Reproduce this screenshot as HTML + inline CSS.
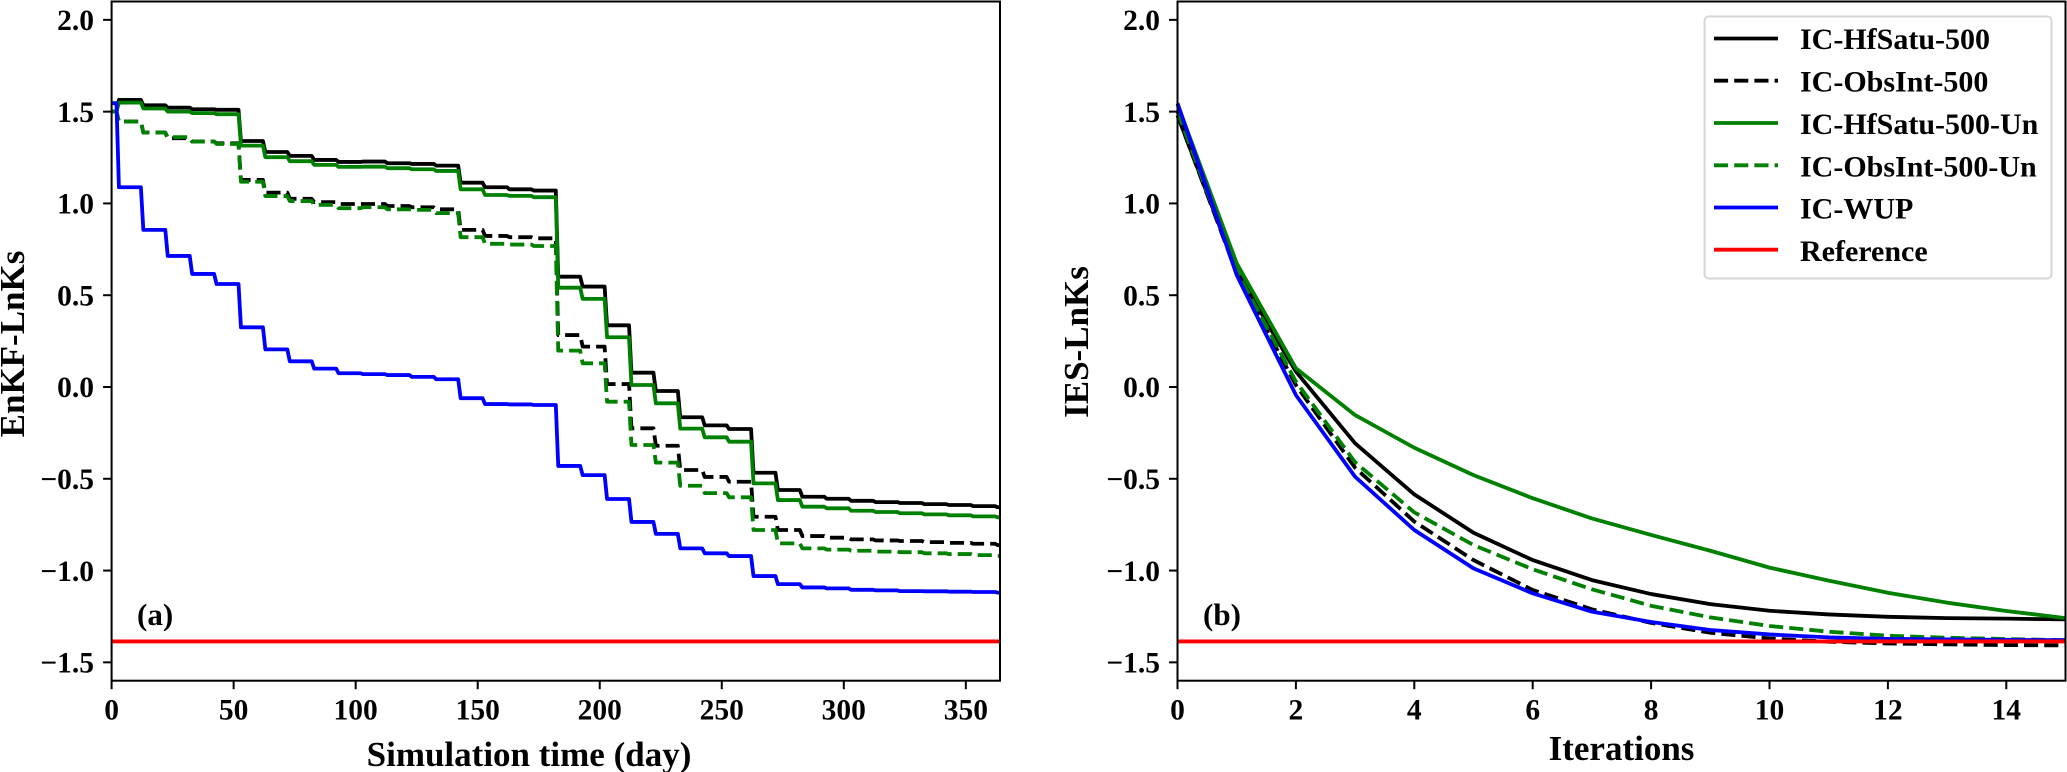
<!DOCTYPE html>
<html lang="en">
<head>
<meta charset="utf-8">
<title>EnKF and IES LnKs comparison</title>
<style>
html,body{margin:0;padding:0;background:#fff;}
body{width:2067px;height:772px;overflow:hidden;}
svg{display:block;}
text{font-family:"Liberation Serif",serif;font-weight:bold;fill:#000;}
.tick{font-size:29.5px;}
.label{font-size:35px;}
.tag{font-size:31px;}
.leg{font-size:30px;}
</style>
</head>
<body>
<svg id="figure" xmlns="http://www.w3.org/2000/svg" width="2067" height="772" viewBox="0 0 2067 772">
  <g id="panel-a"></g>
  <g id="panel-b"></g>
  <text class="label" x="529" y="766" text-anchor="middle">Simulation time (day)</text>
  <text class="label" x="1621.5" y="760" text-anchor="middle">Iterations</text>
  <text class="label" transform="translate(24 344) rotate(-90)" text-anchor="middle">EnKF-LnKs</text>
  <text class="label" transform="translate(1088 342) rotate(-90)" text-anchor="middle">IES-LnKs</text>
  <text class="tag" x="137" y="625">(a)</text>
  <text class="tag" x="1203" y="625">(b)</text>
  <g>
    <rect x="1704.5" y="16.5" width="347" height="262" rx="4" ry="4" fill="#fff" stroke="#d6d6d6" stroke-width="2"></rect>
    <g>
      <line x1="1714" x2="1778" y1="38.5" y2="38.5" stroke="#000" stroke-width="3.8"></line>
      <text class="leg" x="1800" y="49">IC-HfSatu-500</text>
    </g>
    <g>
      <line x1="1714" x2="1778" y1="80.7" y2="80.7" stroke="#000" stroke-width="3.8" stroke-dasharray="14.1 6.1"></line>
      <text class="leg" x="1800" y="91.5">IC-ObsInt-500</text>
    </g>
    <g>
      <line x1="1714" x2="1778" y1="123" y2="123" stroke="#008000" stroke-width="3.8"></line>
      <text class="leg" x="1800" y="134">IC-HfSatu-500-Un</text>
    </g>
    <g>
      <line x1="1714" x2="1778" y1="165.3" y2="165.3" stroke="#008000" stroke-width="3.8" stroke-dasharray="14.1 6.1"></line>
      <text class="leg" x="1800" y="176.5">IC-ObsInt-500-Un</text>
    </g>
    <g>
      <line x1="1714" x2="1778" y1="207.5" y2="207.5" stroke="#0000ff" stroke-width="3.8"></line>
      <text class="leg" x="1800" y="218.5">IC-WUP</text>
    </g>
    <g>
      <line x1="1714" x2="1778" y1="249.7" y2="249.7" stroke="#ff0000" stroke-width="3.8"></line>
      <text class="leg" x="1800" y="261">Reference</text>
    </g>
  </g>
</svg>
<script>
// Shared data
var referenceValue = -1.386;
var yTicks = [2.0, 1.5, 1.0, 0.5, 0.0, -0.5, -1.0, -1.5];

// Panel (a): value held after each assimilation day
var assimDays = [3,13,23,33,43,53,63,73,83,93,103,113,123,133,143,153,163,173,183,193,203,213,223,233,243,253,263,273,283,293,303,313,323,333,343,353,363];
var enkfHfSatu = [1.5,1.564,1.535,1.522,1.513,1.51,1.34,1.28,1.259,1.237,1.226,1.228,1.219,1.215,1.206,1.113,1.088,1.077,1.07,0.601,0.547,0.336,0.078,-0.022,-0.165,-0.209,-0.229,-0.467,-0.561,-0.598,-0.609,-0.62,-0.627,-0.632,-0.638,-0.643,-0.649,-0.655];
var enkfObsInt = [1.5,1.446,1.386,1.355,1.337,1.328,1.128,1.059,1.025,1.007,0.997,0.997,0.986,0.979,0.968,0.856,0.823,0.816,0.81,0.283,0.22,0.016,-0.225,-0.32,-0.452,-0.49,-0.516,-0.707,-0.779,-0.812,-0.821,-0.83,-0.836,-0.839,-0.845,-0.849,-0.854,-0.861];
var enkfHfSatuUn = [1.5,1.549,1.517,1.5,1.492,1.486,1.315,1.252,1.23,1.21,1.199,1.2,1.192,1.186,1.177,1.077,1.046,1.041,1.034,0.541,0.48,0.271,0.011,-0.089,-0.227,-0.274,-0.298,-0.525,-0.616,-0.652,-0.661,-0.674,-0.681,-0.688,-0.694,-0.699,-0.705,-0.71];
var enkfObsIntUn = [1.5,1.446,1.386,1.361,1.337,1.324,1.118,1.04,1.013,0.992,0.974,0.979,0.968,0.965,0.947,0.816,0.78,0.776,0.768,0.198,0.129,-0.08,-0.316,-0.412,-0.538,-0.578,-0.601,-0.779,-0.852,-0.879,-0.886,-0.892,-0.897,-0.9,-0.906,-0.91,-0.916,-0.92];
var enkfWup = [1.546,1.088,0.856,0.714,0.616,0.561,0.325,0.205,0.14,0.1,0.075,0.07,0.065,0.055,0.042,-0.061,-0.093,-0.095,-0.098,-0.43,-0.48,-0.61,-0.735,-0.8,-0.879,-0.906,-0.921,-1.03,-1.074,-1.092,-1.097,-1.105,-1.108,-1.112,-1.113,-1.115,-1.117,-1.12];
var dayTicks = [0,50,100,150,200,250,300,350];

// Panel (b): value at each iteration
var iterations = [0,1,2,3,4,5,6,7,8,9,10,11,12,13,14,15];
var iesHfSatu = [1.48,0.63,0.084,-0.307,-0.585,-0.794,-0.943,-1.052,-1.128,-1.183,-1.219,-1.239,-1.252,-1.259,-1.262,-1.266];
var iesObsInt = [1.48,0.62,0.01,-0.44,-0.733,-0.943,-1.106,-1.211,-1.285,-1.339,-1.37,-1.388,-1.397,-1.402,-1.406,-1.408];
var iesHfSatuUn = [1.54,0.674,0.102,-0.153,-0.331,-0.48,-0.606,-0.716,-0.806,-0.892,-0.984,-1.055,-1.121,-1.175,-1.22,-1.259];
var iesObsIntUn = [1.5,0.63,0.03,-0.41,-0.683,-0.861,-0.993,-1.102,-1.192,-1.255,-1.302,-1.333,-1.355,-1.366,-1.373,-1.379];
var iesWup = [1.546,0.61,-0.044,-0.489,-0.779,-0.988,-1.124,-1.224,-1.28,-1.324,-1.348,-1.364,-1.372,-1.375,-1.378,-1.379];
var iterTicks = [0,2,4,6,8,10,12,14];

var SVGNS = 'http://www.w3.org/2000/svg';
var AXIS_TOP = 1.5, AXIS_BOTTOM = 680.7;
var Y_MAX = 2.1, Y_MIN = -1.6;

function yScale(v) {
  return AXIS_TOP + (Y_MAX - v) * (AXIS_BOTTOM - AXIS_TOP) / (Y_MAX - Y_MIN);
}
function linearX(left, right, lo, hi) {
  return function (v) { return left + (v - lo) * (right - left) / (hi - lo); };
}
function fmtY(v) {
  return (v < 0 ? '\u2212' : '') + Math.abs(v).toFixed(1);
}
function make(tag, parent) {
  var el = document.createElementNS(SVGNS, tag);
  parent.appendChild(el);
  return el;
}
function drawSeries(parent, d, color, dashed, name) {
  var p = make('path', parent);
  p.setAttribute('d', d);
  p.setAttribute('fill', 'none');
  p.setAttribute('stroke', color);
  p.setAttribute('stroke-width', '3.8');
  p.setAttribute('stroke-linejoin', 'round');
  if (dashed) { p.setAttribute('stroke-dasharray', '14.1 6.1'); }
  
  
}
function stepPath(values, xs, xEnd) {
  var d = 'M' + xs(0) + ' ' + yScale(values[0]);
  for (var i = 0; i < assimDays.length; i++) {
    d += 'L' + xs(assimDays[i] - 1) + ' ' + yScale(values[i]);
    d += 'L' + xs(assimDays[i]) + ' ' + yScale(values[i + 1]);
  }
  d += 'L' + xs(xEnd) + ' ' + yScale(values[values.length - 1]);
  return d;
}
function linePath(values, xs) {
  var d = '';
  for (var i = 0; i < iterations.length; i++) {
    d += (i ? 'L' : 'M') + xs(iterations[i]) + ' ' + yScale(values[i]);
  }
  return d;
}
function drawAxes(parent, left, right, xs, xTicks, yLabelRight) {
  var frame = make('rect', parent);
  frame.setAttribute('x', left);
  frame.setAttribute('y', AXIS_TOP);
  frame.setAttribute('width', right - left);
  frame.setAttribute('height', AXIS_BOTTOM - AXIS_TOP);
  frame.setAttribute('fill', 'none');
  frame.setAttribute('stroke', '#000');
  frame.setAttribute('stroke-width', '2');
  
  

  yTicks.forEach(function (v) {
    var y = yScale(v);
    var t = make('line', parent);
    t.setAttribute('x1', left - 8.5);
    t.setAttribute('x2', left);
    t.setAttribute('y1', y);
    t.setAttribute('y2', y);
    t.setAttribute('stroke', '#000');
    t.setAttribute('stroke-width', '2');
    
    
    var l = make('text', parent);
    l.setAttribute('class', 'tick');
    l.setAttribute('x', yLabelRight);
    l.setAttribute('y', y + 10.2);
    l.setAttribute('text-anchor', 'end');
    l.textContent = fmtY(v);
    
    
  });
  xTicks.forEach(function (v) {
    var x = xs(v);
    var t = make('line', parent);
    t.setAttribute('x1', x);
    t.setAttribute('x2', x);
    t.setAttribute('y1', AXIS_BOTTOM);
    t.setAttribute('y2', AXIS_BOTTOM + 8.5);
    t.setAttribute('stroke', '#000');
    t.setAttribute('stroke-width', '2');
    
    
    var l = make('text', parent);
    l.setAttribute('class', 'tick');
    l.setAttribute('x', x);
    l.setAttribute('y', 719.5);
    l.setAttribute('text-anchor', 'middle');
    l.textContent = String(v);
    
    
  });
}

var panelA = document.getElementById('panel-a');
var xDay = linearX(111.6, 1000, 0, 364);
drawSeries(panelA, stepPath(enkfHfSatu, xDay, 364), '#000', false, 'series-ic-hfsatu-500');
drawSeries(panelA, stepPath(enkfObsInt, xDay, 364), '#000', true, 'series-ic-obsint-500');
drawSeries(panelA, stepPath(enkfHfSatuUn, xDay, 364), '#008000', false, 'series-ic-hfsatu-500-un');
drawSeries(panelA, stepPath(enkfObsIntUn, xDay, 364), '#008000', true, 'series-ic-obsint-500-un');
drawSeries(panelA, stepPath(enkfWup, xDay, 364), '#0000ff', false, 'series-ic-wup');
drawSeries(panelA, 'M' + xDay(0) + ' ' + yScale(referenceValue) + 'L' + xDay(364) + ' ' + yScale(referenceValue), '#ff0000', false, 'series-reference');
drawAxes(panelA, 111.6, 1000, xDay, dayTicks, 94);

var panelB = document.getElementById('panel-b');
var xIter = linearX(1177.5, 2065.5, 0, 15);
drawSeries(panelB, linePath(iesHfSatu, xIter), '#000', false, 'series-ic-hfsatu-500');
drawSeries(panelB, linePath(iesObsInt, xIter), '#000', true, 'series-ic-obsint-500');
drawSeries(panelB, linePath(iesHfSatuUn, xIter), '#008000', false, 'series-ic-hfsatu-500-un');
drawSeries(panelB, linePath(iesObsIntUn, xIter), '#008000', true, 'series-ic-obsint-500-un');
drawSeries(panelB, linePath(iesWup, xIter), '#0000ff', false, 'series-ic-wup');
drawSeries(panelB, 'M' + xIter(0) + ' ' + yScale(referenceValue) + 'L' + xIter(15) + ' ' + yScale(referenceValue), '#ff0000', false, 'series-reference');
drawAxes(panelB, 1177.5, 2065.5, xIter, iterTicks, 1160);
</script>
</body>
</html>
